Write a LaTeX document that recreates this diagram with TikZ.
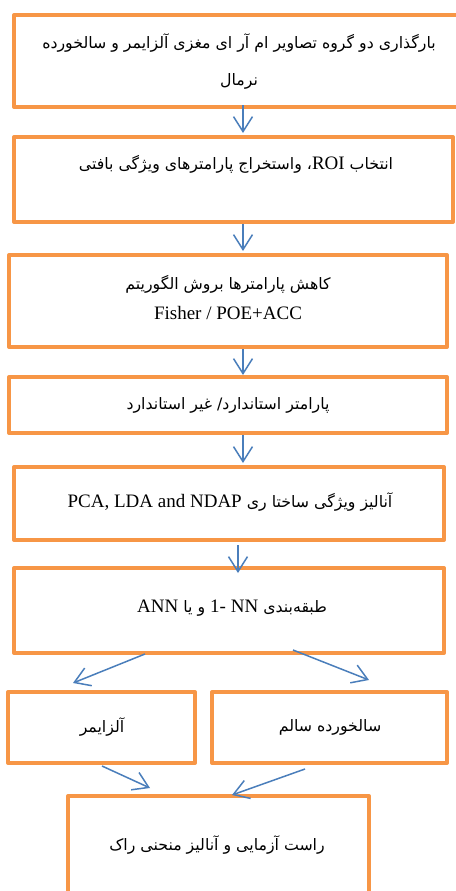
\documentclass[tikz,border=0pt]{standalone}
\usepackage{fontspec}
\setmainfont{Liberation Serif}
\newfontfamily\arabicfont[Script=Arabic, Scale=0.83]{DejaVu Sans}
\TeXXeTstate=1
\usetikzlibrary{arrows.meta, calc}
\definecolor{boxorange}{HTML}{F79646}
\definecolor{flowblue}{HTML}{4A7EBB}
\newcommand{\fa}[1]{{\arabicfont\beginR #1\endR}}

\begin{document}
\begin{tikzpicture}[x=1pt, y=-1pt,
  stage/.style={draw=boxorange, line width=4pt, line join=round, inner sep=0pt},
  txt/.style={font=\fontsize{19}{24}\selectfont, align=center, inner sep=0pt},
  flow/.style={draw=flowblue, line width=1.5pt, -{Straight Barb[length=15pt, width=19pt]}}
]
  \useasboundingbox (0,0) rectangle (455,891);

  % Boxes
  \node[stage, minimum width=448pt, minimum height=92pt] (load) at (238,61) {};
  \node[stage, minimum width=439pt, minimum height=85pt] (roi) at (233.5,179.5) {};
  \node[stage, minimum width=438pt, minimum height=92pt] (reduce) at (228,301) {};
  \node[stage, minimum width=438pt, minimum height=56pt] (std) at (228,405) {};
  \node[stage, minimum width=430pt, minimum height=73pt] (feat) at (229,503.5) {};
  \node[stage, minimum width=430pt, minimum height=85pt] (cls) at (229,610.5) {};
  \node[stage, minimum width=187pt, minimum height=71pt] (alz) at (101.5,727.5) {};
  \node[stage, minimum width=235pt, minimum height=71pt] (hlt) at (329.5,727.5) {};
  \node[stage, minimum width=301pt, minimum height=104pt] (roc) at (218.5,848) {};

  % Texts
  \node[txt] (loadtxt) at (239,61.5) {\fa{بارگذاری دو گروه تصاویر ام آر ای مغزی آلزایمر و سالخورده}\\[13pt]\fa{نرمال}};
  \node[txt] (roitxt) at (236,164) {\fa{انتخاب {\rmfamily ROI}، واستخراج پارامترهای ویژگی بافتی}};
  \node[txt] (reducetxt) at (228,298) {\fa{کاهش پارامترها بروش الگوریتم}\\[6pt]Fisher / POE+ACC};
  \node[txt] (stdtxt) at (228,405) {\fa{پارامتر استاندارد/ غیر استاندارد}};
  \node[txt] (feattxt) at (230,502) {\fa{آنالیز ویژگی ساختا ری \beginL{\rmfamily PCA, LDA and NDAP}\endL}};
  \node[txt] (clstxt) at (232,608) {\fa{طبقه^^^^200cبندی \beginL{\rmfamily 1- NN}\endL{} و یا {\rmfamily ANN}}};
  \node[txt] (alztxt) at (102,727) {\fa{آلزایمر}};
  \node[txt] (hlttxt) at (330,727) {\fa{سالخورده سالم}};
  \node[txt] (roctxt) at (217,845) {\fa{راست آزمایی و آنالیز منحنی راک}};

  % Arrows
  \draw[flow] ($(load.south)+(5,-4)$) -- ($(roi.north)+(9.5,-2)$);
  \draw[flow] ($(roi.south)+(9.5,0)$) -- ($(reduce.north)+(15,-2)$);
  \draw[flow] ($(reduce.south)+(15,0)$) -- ($(std.north)+(15,0)$);
  \draw[flow] ($(std.south)+(15,0)$) -- ($(feat.north)+(14,-2)$);
  \draw[flow] ($(feat.south)+(9,3)$) -- ($(cls.north)+(9,7)$);
  \draw[flow] ($(cls.south)+(-84,-1)$) -- ($(alz.north)+(-28.5,-7)$);
  \draw[flow] ($(cls.south)+(64,-5)$) -- ($(hlt.north)+(39.5,-10)$);
  \draw[flow] ($(alz.south)+(0.5,1)$) -- ($(roc.north)+(-68.5,-6)$);
  \draw[flow] ($(hlt.south)+(-24.5,4)$) -- ($(roc.north)+(13.5,1)$);
\end{tikzpicture}
\end{document}
